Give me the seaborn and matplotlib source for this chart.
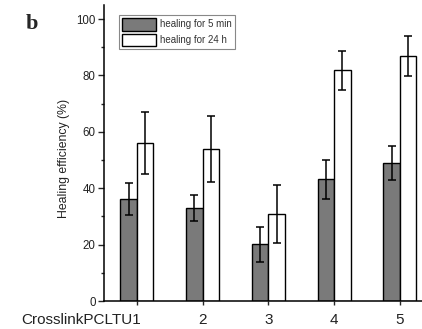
import numpy as np
import pandas as pd
import matplotlib
matplotlib.use("Agg")
import matplotlib.pyplot as plt
import seaborn as sns
from matplotlib.ticker import MultipleLocator
from matplotlib.transforms import ScaledTranslation

categories = ["CrosslinkPCLTU1", "2", "3", "4", "5"]
series = ["healing for 5 min", "healing for 24 h"]
eff_5min = [36.2, 32.9, 20.1, 43.1, 48.9]
err_5min = [5.7, 4.6, 6.1, 6.8, 6.0]
eff_24h = [55.9, 53.9, 31.0, 81.8, 86.8]
err_24h = [11.0, 11.7, 10.3, 6.8, 7.1]
y_ticks = [0, 20, 40, 60, 80, 100]

sns.set_style("ticks")
plt.rcParams["font.family"] = ["Liberation Sans", "DejaVu Sans"]

df = pd.DataFrame({
    "cat": categories * 2,
    "eff": eff_5min + eff_24h,
    "series": [series[0]] * len(categories) + [series[1]] * len(categories),
})

fig = plt.figure(figsize=(4.22, 3.29), dpi=100)
ax = fig.add_axes([104 / 422, 28 / 329, 328.75 / 422, 296 / 329])

sns.barplot(data=df, x="cat", y="eff", hue="series", order=categories,
            hue_order=series, palette=["#7a7a7a", "white"], saturation=1,
            edgecolor="black", linewidth=1.0, width=0.5, errorbar=None, ax=ax)

for cont, errs in zip(ax.containers, [err_5min, err_24h]):
    for bar, e in zip(cont, errs):
        xc = bar.get_x() + bar.get_width() / 2
        ax.errorbar(xc, bar.get_height(), yerr=e, color="black", capsize=3.0,
                    elinewidth=1.1, capthick=1.1, fmt="none")

ax.set_xlim(-0.5, 4.5)
ax.set_ylim(0, 105)
ax.set_yticks(y_ticks)
ax.yaxis.set_minor_locator(MultipleLocator(10))
ax.set_xlabel("")
ax.set_ylabel("Healing efficiency (%)", fontsize=8.8, color="#222222")
ax.yaxis.set_label_coords(-0.103, 0.48)

for s in ["top", "right"]:
    ax.spines[s].set_visible(False)
for s in ["left", "bottom"]:
    ax.spines[s].set_linewidth(1.1)
    ax.spines[s].set_color("black")

ax.tick_params(axis="y", which="major", direction="out", length=4, width=1,
               labelsize=8.3, pad=2, labelcolor="#222222")
ax.tick_params(axis="y", which="minor", direction="out", length=2.5, width=1)
ax.tick_params(axis="x", which="major", direction="out", length=3, width=1,
               labelsize=11, pad=6, labelcolor="#222222")

lbl = ax.get_xticklabels()[0]
lbl.set_horizontalalignment("right")
lbl.set_transform(lbl.get_transform() + ScaledTranslation(4.5 / 100, 0, fig.dpi_scale_trans))

handles, labels = ax.get_legend_handles_labels()
leg = ax.legend(handles, labels, loc="upper left",
                bbox_to_anchor=(119 / 422, 1 - 15 / 329),
                bbox_transform=fig.transFigure, borderaxespad=0,
                fontsize=7, handlelength=3.5, handleheight=1.65,
                handletextpad=0.45, labelspacing=0.3, borderpad=0.3,
                fancybox=False, frameon=True, framealpha=1)
leg.get_frame().set_edgecolor("#888888")
leg.get_frame().set_linewidth(0.8)
for t in leg.get_texts():
    t.set_color("#333333")

fig.text(32 / 422, 1 - 24 / 329, "b", ha="center", va="center", fontsize=16,
         fontweight="bold", family=["Liberation Serif", "DejaVu Serif"])

fig.savefig("out.png", dpi=100)
